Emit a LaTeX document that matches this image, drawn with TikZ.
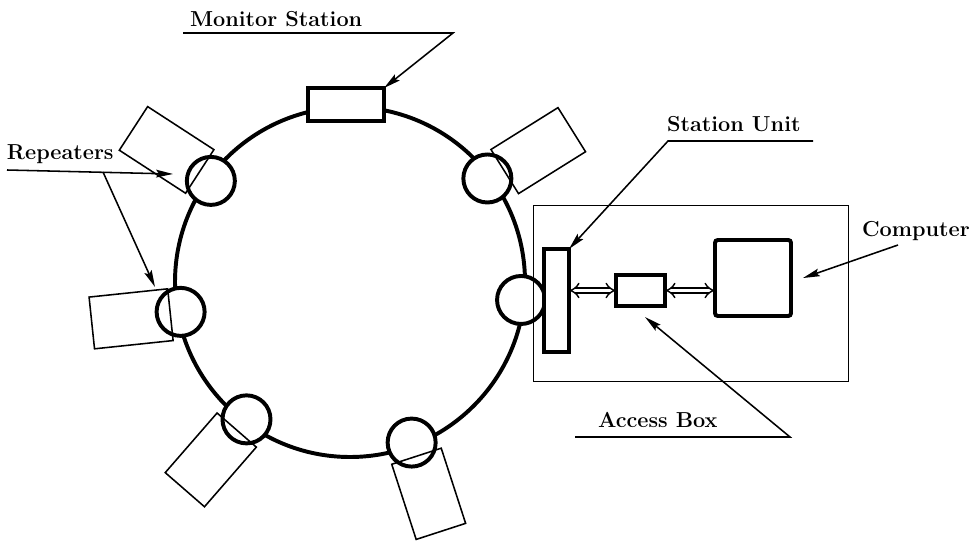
\documentclass[tikz,border=0pt]{standalone}
\usepackage{tikz}
\usetikzlibrary{arrows.meta,calc}

\begin{document}
\begin{tikzpicture}[
    x=0.025cm, y=0.025cm,
    every node/.style={inner sep=0pt, outer sep=0pt},
    labeltext/.style={font=\fontsize{15.4}{18}\selectfont\bfseries, anchor=base west},
    thickline/.style={line width=2.8pt},
    thinline/.style={line width=1.1pt},
    repeater/.style={circle, draw, thickline, fill=white, minimum size=1.2cm},
    tail/.style={draw, thinline, minimum width=1.975cm, minimum height=1.3cm},
    unit/.style={draw, thickline, fill=white},
    pointer/.style={thinline, -{Stealth[length=12pt,width=5.5pt,inset=2pt]}},
    link/.style={double, double distance=2.8pt, line width=1pt, {Implies}-{Implies}}
]
\useasboundingbox (0,0) rectangle (977,540);

% the ring
\coordinate (c) at (350,258);
\draw[thickline] (c) circle[radius=175];

% repeaters on the ring
\node[repeater] (rep1) at ($(c)+(144:172)$) {};
\node[repeater] (rep2) at ($(c)+(190:172)$) {};
\node[repeater] (rep3) at ($(c)+(233:172)$) {};
\node[repeater] (rep4) at ($(c)+(291:172)$) {};
\node[repeater] (rep5) at ($(c)+(37:172)$) {};
\node[repeater] (rep6) at ($(c)+(354:172)$) {};

\node[tail, rotate=147] (tail1) at ($(rep1)+(145:54)$) {};
\node[tail, rotate=186] (tail2) at ($(rep2)+(188:50)$) {};
\node[tail, rotate=229] (tail3) at ($(rep3)+(228.6:54)$) {};
\node[tail, rotate=288] (tail4) at ($(rep4)+(288.4:54)$) {};
\node[tail, rotate=32] (tail5) at ($(rep5)+(28.7:58)$) {};

\node[unit, minimum width=1.9cm, minimum height=0.825cm] (mon) at (346,435.5) {};

% computer side
\node[draw, thinline, minimum width=7.875cm, minimum height=4.4cm] (host) at (691,246.5) {};
\node[unit, minimum width=0.625cm, minimum height=2.575cm] (su) at (556.5,239.5) {};
\node[unit, minimum width=1.225cm, minimum height=0.775cm] (ab) at (640.5,249.5) {};
\node[unit, rounded corners=2pt, minimum width=1.9cm, minimum height=1.9cm] (comp) at (753,262) {};

\draw[link] (ab.west -| su.east) -- (ab.west);
\draw[link] (ab.east) -- (ab.east -| comp.west);

% labels
\node[labeltext] (monlbl) at (190,513) {Monitor Station};
\node[labeltext] (replbl) at (7,380) {Repeaters};
\node[labeltext] (sulbl) at (667,408) {Station Unit};
\node[labeltext] (complbl) at (862,303) {Computer};
\node[labeltext] (ablbl) at (598,113) {Access Box};

\coordinate (monA) at (183,507);
\coordinate (monB) at (453,507);
\coordinate (repA) at (7,370);
\coordinate (repB) at (173,366);
\coordinate (repC) at (103,368);
\coordinate (repD) at (155,253);
\coordinate (suA) at (813,399);
\coordinate (suB) at (668,399);
\coordinate (compA) at (898,295);
\coordinate (compB) at (803,262);
\coordinate (abA) at (575,103);
\coordinate (abB) at (790,103);
\coordinate (abC) at (645,223);

\draw[pointer] (monA) -- (monB) -- (mon.north east);
\draw[pointer] (repA) -- (repB);
\draw[pointer] (repC) -- (repD);
\draw[pointer] (suA) -- (suB) -- (su.north east);
\draw[pointer] (compA) -- (compB);
\draw[pointer] (abA) -- (abB) -- (abC);
\end{tikzpicture}
\end{document}
